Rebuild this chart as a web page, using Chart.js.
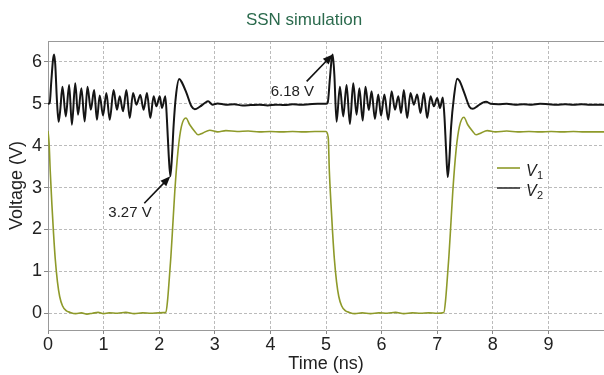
<!DOCTYPE html>
<html>
<head>
<meta charset="utf-8">
<script src="https://cdn.jsdelivr.net/npm/chart.js@4"></script>
<style>
  html, body { margin: 0; padding: 0; background: #fff; }
</style>
</head>
<body>
<canvas id="chart" width="604" height="375"></canvas>
<script>
// V1 (green) - time in ns, voltage in V
const v1Time = [0.00, 0.02, 0.04, 0.07, 0.10, 0.13, 0.17, 0.21, 0.26, 0.32, 0.40, 0.50, 0.60, 0.70, 0.80, 0.90, 1.00, 1.10, 1.25, 1.40, 1.55, 1.70, 1.85, 2.00, 2.12,
  2.15, 2.18, 2.21, 2.24, 2.28, 2.34, 2.40, 2.48, 2.55, 2.64, 2.70, 2.78, 2.91, 3.05, 3.20, 3.40, 3.60, 3.80, 4.00, 4.20, 4.40, 4.60, 4.80, 5.00,
  5.04, 5.06, 5.09, 5.12, 5.15, 5.19, 5.23, 5.28, 5.34, 5.42, 5.52, 5.65, 5.80, 5.95, 6.10, 6.25, 6.40, 6.55, 6.70, 6.85, 7.00, 7.12,
  7.15, 7.18, 7.21, 7.24, 7.28, 7.34, 7.40, 7.48, 7.55, 7.64, 7.70, 7.78, 7.90, 8.05, 8.25, 8.45, 8.65, 8.85, 9.05, 9.25, 9.45, 9.65, 9.85, 10.0];
const v1Volt = [4.35, 4.05, 3.40, 2.60, 1.90, 1.30, 0.75, 0.40, 0.18, 0.07, 0.02, -0.01, 0.01, -0.02, 0.00, 0.02, -0.01, 0.01, 0.00, 0.02, -0.01, 0.01, 0.00, 0.01, 0.02,
  0.30, 0.80, 1.35, 2.00, 2.90, 3.90, 4.46, 4.66, 4.50, 4.34, 4.26, 4.30, 4.37, 4.33, 4.36, 4.34, 4.35, 4.33, 4.34, 4.33, 4.34, 4.33, 4.34, 4.34,
  4.20, 3.40, 2.60, 1.90, 1.30, 0.75, 0.40, 0.18, 0.07, 0.02, -0.01, 0.01, -0.01, 0.01, 0.00, 0.02, -0.01, 0.01, 0.00, 0.01, 0.00, 0.02,
  0.30, 0.80, 1.35, 2.00, 2.90, 3.90, 4.46, 4.68, 4.50, 4.34, 4.26, 4.30, 4.36, 4.33, 4.35, 4.33, 4.34, 4.33, 4.34, 4.33, 4.34, 4.33, 4.33, 4.33];

// V2 (black)
const v2Time = [0.00, 0.03, 0.06, 0.09, 0.11, 0.13, 0.16, 0.19, 0.22, 0.26, 0.32, 0.38, 0.43, 0.49, 0.54, 0.60, 0.66, 0.71, 0.77, 0.83, 0.88, 0.93, 0.99,
  1.05, 1.11, 1.18, 1.24, 1.29, 1.35, 1.41, 1.47, 1.53, 1.59, 1.66, 1.72, 1.78, 1.84, 1.90, 1.95, 2.01, 2.05, 2.11,
  2.14, 2.17, 2.20, 2.23, 2.26, 2.30, 2.36, 2.40, 2.49, 2.58, 2.64, 2.73, 2.82, 2.88, 2.96, 3.05, 3.20, 3.35, 3.50, 3.65, 3.80, 3.95, 4.10, 4.25, 4.40, 4.55, 4.70, 4.85, 5.00,
  5.03, 5.07, 5.10, 5.12, 5.15, 5.19, 5.25, 5.31, 5.37, 5.43, 5.49, 5.55, 5.60, 5.66, 5.71, 5.77, 5.82, 5.88, 5.94, 5.99,
  6.05, 6.12, 6.18, 6.24, 6.30, 6.35, 6.40, 6.46, 6.52, 6.58, 6.64, 6.70, 6.76, 6.82, 6.88, 6.94, 7.00, 7.05, 7.10,
  7.13, 7.16, 7.19, 7.22, 7.25, 7.30, 7.36, 7.40, 7.49, 7.58, 7.64, 7.73, 7.82, 7.88, 7.96, 8.10, 8.25, 8.40, 8.55, 8.70, 8.85, 9.00, 9.15, 9.30, 9.45, 9.60, 9.75, 9.90, 10.0];
const v2Volt = [5.00, 5.02, 5.55, 6.05, 6.18, 5.95, 5.10, 4.57, 4.85, 5.41, 4.70, 5.45, 4.50, 5.49, 4.74, 5.37, 4.58, 5.41, 4.86, 5.33, 4.62, 5.20, 4.72,
  5.26, 4.62, 5.33, 4.86, 5.18, 4.82, 5.33, 4.66, 5.26, 4.98, 5.21, 4.86, 5.26, 4.66, 5.18, 4.94, 5.18, 4.90, 5.18,
  4.60, 3.80, 3.27, 3.75, 4.50, 5.18, 5.59, 5.53, 5.26, 4.94, 4.87, 4.93, 5.02, 5.06, 4.98, 5.01, 4.98, 4.99, 4.96, 4.97, 4.98, 4.96, 4.98, 4.97, 4.99, 4.98, 4.99, 5.00, 5.00,
  5.02, 5.60, 6.05, 6.18, 5.70, 4.57, 5.41, 4.70, 5.45, 4.52, 5.49, 4.74, 5.37, 4.60, 5.41, 4.85, 5.30, 4.64, 5.22, 4.72,
  5.22, 4.62, 5.30, 4.86, 5.18, 4.78, 5.33, 4.66, 5.26, 4.98, 5.22, 4.78, 5.26, 4.66, 5.18, 4.94, 5.14, 4.90, 5.15,
  4.70, 3.90, 3.25, 3.70, 4.45, 5.15, 5.60, 5.55, 5.25, 4.93, 4.88, 4.95, 5.03, 5.05, 5.00, 4.99, 5.00, 4.98, 4.99, 4.98, 5.00, 4.99, 4.98, 4.99, 4.98, 4.99, 4.98, 4.98, 4.98];

// arrow annotations
const annotTime = [5.12, 2.20];
const annotVolt = [6.18, 3.27];
const annotText = ["6.18 V", "3.27 V"];

const green = "#8e9a2a";
const black = "#151515";
const font = "'Liberation Sans', Arial, sans-serif";

let v1Points = v1Time.map((t, i) => ({ x: t, y: v1Volt[i] }));
let v2Points = v2Time.map((t, i) => ({ x: t, y: v2Volt[i] }));

function arrow(c, x1, y1, x2, y2) {
  let a = Math.atan2(y2 - y1, x2 - x1);
  c.beginPath();
  c.moveTo(x1, y1);
  c.lineTo(x2 - 6 * Math.cos(a), y2 - 6 * Math.sin(a));
  c.stroke();
  c.beginPath();
  c.moveTo(x2, y2);
  c.lineTo(x2 - 10 * Math.cos(a) + 4 * Math.sin(a), y2 - 10 * Math.sin(a) - 4 * Math.cos(a));
  c.lineTo(x2 - 10 * Math.cos(a) - 4 * Math.sin(a), y2 - 10 * Math.sin(a) + 4 * Math.cos(a));
  c.closePath();
  c.fill();
}

const extras = {
  id: "extras",
  afterDraw(chart) {
    let c = chart.ctx;
    let area = chart.chartArea;
    let xs = chart.scales.x;
    let ys = chart.scales.y;
    c.save();

    // top frame line
    c.strokeStyle = "#999";
    c.lineWidth = 1;
    c.beginPath();
    c.moveTo(area.left, area.top + 0.5);
    c.lineTo(area.right, area.top + 0.5);
    c.stroke();

    // title
    c.fillStyle = "#2b6a4d";
    c.font = "17px " + font;
    c.textAlign = "center";
    c.textBaseline = "middle";
    c.fillText("SSN simulation", 304, 20);

    // annotations
    c.strokeStyle = "#111";
    c.fillStyle = "#111";
    c.lineWidth = 1.6;
    for (let i = 0; i < annotTime.length; i++) {
      let px = xs.getPixelForValue(annotTime[i]);
      let py = ys.getPixelForValue(annotVolt[i]);
      arrow(c, px - 26, py + 27, px, py);
      c.fillStyle = "#222";
      c.font = "15px " + font;
      c.textAlign = "left";
      c.fillText(annotText[i], px - 62, py + 37);
      c.fillStyle = "#111";
    }

    // legend
    let names = ["1", "2"];
    let cols = [green, "#333"];
    for (let i = 0; i < 2; i++) {
      let y = 168 + i * 20;
      c.strokeStyle = cols[i];
      c.lineWidth = 1.6;
      c.beginPath();
      c.moveTo(497, y);
      c.lineTo(520, y);
      c.stroke();
      c.fillStyle = "#222";
      c.textAlign = "left";
      c.textBaseline = "alphabetic";
      c.font = "italic 16px " + font;
      c.fillText("V", 526, y + 8);
      c.font = "11px " + font;
      c.fillText(names[i], 537, y + 11);
    }
    c.restore();
  }
};

let ctx = document.getElementById("chart").getContext("2d");
const chart = new Chart(ctx, {
  type: "line",
  data: {
    datasets: [
      {
        label: "V1",
        data: v1Points,
        borderColor: green,
        borderWidth: 1.6,
        pointRadius: 0,
        cubicInterpolationMode: "monotone",
        fill: false
      },
      {
        label: "V2",
        data: v2Points,
        borderColor: black,
        borderWidth: 2,
        pointRadius: 0,
        cubicInterpolationMode: "monotone",
        fill: false
      }
    ]
  },
  options: {
    responsive: false,
    animation: false,
    devicePixelRatio: 1,
    layout: { padding: { top: 41, right: 0, bottom: 0, left: 0 } },
    plugins: {
      legend: { display: false },
      title: { display: false },
      tooltip: { enabled: false }
    },
    scales: {
      x: {
        type: "linear",
        min: 0,
        max: 10,
        ticks: {
          stepSize: 1,
          includeBounds: false,
          maxRotation: 0,
          padding: 0,
          color: "#222",
          font: { family: font, size: 18 },
          callback: v => (v === 10 ? "" : v)
        },
        grid: { color: "#bbb", tickColor: "#888", tickLength: 4 },
        border: { color: "#999", dash: [3, 2] },
        title: {
          display: true,
          text: "Time (ns)",
          color: "#222",
          font: { family: font, size: 18 },
          padding: { top: 0, bottom: 0 }
        },
        afterFit: s => { s.height = 45; }
      },
      y: {
        min: -0.4,
        max: 6.5,
        ticks: {
          stepSize: 1,
          includeBounds: false,
          padding: 2,
          color: "#222",
          font: { family: font, size: 18 }
        },
        grid: { color: "#bbb", tickColor: "#888", tickLength: 4 },
        border: { color: "#999", dash: [3, 2] },
        title: {
          display: true,
          text: "Voltage (V)",
          color: "#222",
          font: { family: font, size: 18 },
          padding: { top: 6, bottom: 0 }
        },
        afterFit: s => { s.width = 48; }
      }
    }
  },
  plugins: [extras]
});
</script>
</body>
</html>
